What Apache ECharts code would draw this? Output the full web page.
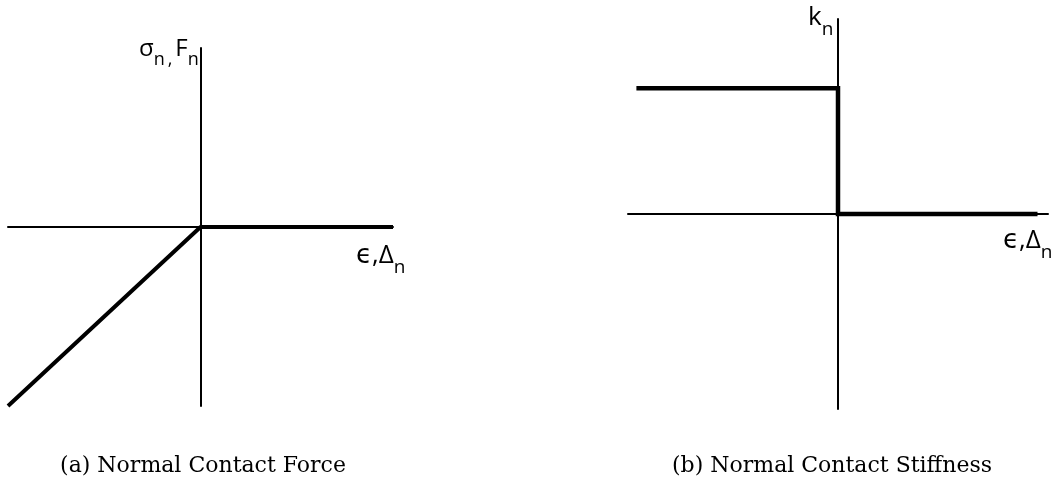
<!DOCTYPE html>
<html>
<head>
<meta charset="utf-8">
<style>
  html, body { margin: 0; padding: 0; background: #fff; }
  #chart { width: 1061px; height: 485px; }
</style>
<script src="https://cdn.jsdelivr.net/npm/echarts@6/dist/echarts.min.js"></script>
</head>
<body>
<div id="chart"></div>
<script>
// (a) normal contact force vs. penetration: linear in compression, zero in separation
const forceStrain = [-1, 0, 1];
const forceStress = [-1, 0, 0];

// (b) normal contact stiffness: constant k_n in compression, zero in separation
const stiffStrain = [-0.96, 0, 0, 0.95];
const stiffValue = [0.645, 0.645, 0, 0];

// axis names and captions (rich-text markup: m = main, s = subscript)
const forceAxisNames = ['{m|σ}{s|n\u2009,\u2009}{m|F}{s|n}', '{m|ϵ,Δ}{s|n}'];
const stiffAxisNames = ['{m|k}{s|n}', '{m|ϵ,Δ}{s|n}'];
const captions = ['(a) Normal Contact Force', '(b) Normal Contact Stiffness'];

const SANS = '"Open Sans", "DejaVu Sans", sans-serif';
const SERIF = '"DejaVu Serif", "Liberation Serif", serif';

function richStyles(size) {
  const sub = Math.round(size * 0.74);
  return {
    m: { fontSize: size, fontFamily: SANS, color: '#000', lineHeight: size + 8, verticalAlign: 'top' },
    s: { fontSize: sub, fontFamily: SANS, color: '#000', lineHeight: sub, verticalAlign: 'bottom' }
  };
}

function axisLabel(text, x, y, size) {
  return {
    type: 'text', x: x, y: y, silent: true,
    style: { text: text, rich: richStyles(size), align: 'left', verticalAlign: 'top', fill: '#000' }
  };
}

function caption(text, cx, cy) {
  return {
    type: 'text', x: cx, y: cy, silent: true,
    style: { text: text, font: '22px ' + SERIF, fill: '#000', align: 'center', verticalAlign: 'middle' }
  };
}

function valueAxis(gridIndex) {
  return {
    type: 'value', gridIndex: gridIndex, min: -1, max: 1,
    axisLine: { show: true, onZero: true, lineStyle: { color: '#000', width: 2 } },
    axisTick: { show: false },
    axisLabel: { show: false },
    splitLine: { show: false }
  };
}

const chart = echarts.init(document.getElementById('chart'), null, { renderer: 'canvas' });

chart.setOption({
  animation: false,
  backgroundColor: '#fff',
  grid: [
    { left: 8, top: 48, width: 385, height: 358 },
    { left: 628, top: 19, width: 420, height: 390 }
  ],
  xAxis: [valueAxis(0), valueAxis(1)],
  yAxis: [valueAxis(0), valueAxis(1)],
  series: [
    {
      type: 'line', xAxisIndex: 0, yAxisIndex: 0,
      data: forceStrain.map((x, i) => [x, forceStress[i]]),
      showSymbol: false, silent: true,
      lineStyle: { color: '#000', width: 4 }
    },
    {
      type: 'line', xAxisIndex: 1, yAxisIndex: 1,
      data: stiffStrain.map((x, i) => [x, stiffValue[i]]),
      showSymbol: false, silent: true,
      lineStyle: { color: '#000', width: 4.5, join: 'miter' }
    }
  ],
  graphic: [
    axisLabel(forceAxisNames[0], 139, 37, 24),
    axisLabel(forceAxisNames[1], 356, 243, 26),
    axisLabel(stiffAxisNames[0], 808, 5, 26),
    axisLabel(stiffAxisNames[1], 1003, 228, 26),
    caption(captions[0], 203, 466),
    caption(captions[1], 832, 466)
  ]
});
</script>
</body>
</html>
